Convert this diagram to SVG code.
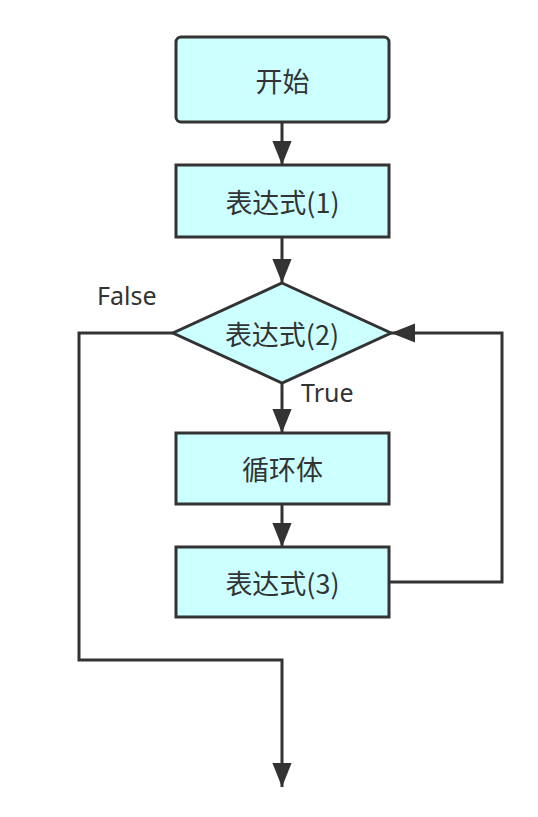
<svg xmlns="http://www.w3.org/2000/svg" width="538" height="817" viewBox="0 0 538 817">
<style>
.node{fill:#ccffff;stroke:#333333;stroke-width:3}
.cn{font-family:"Noto Sans CJK SC","Noto Sans",sans-serif;font-size:27px;fill:#333333;text-anchor:middle;dominant-baseline:central}
.lbl{font-family:"Noto Sans","Liberation Sans",sans-serif;font-size:25px;fill:#333333}
.edge{fill:none;stroke:#333333;stroke-width:3}
</style>
<defs>
<marker id="arr" markerUnits="userSpaceOnUse" markerWidth="24" markerHeight="20" viewBox="0 0 20 16" refX="20" refY="8" orient="auto">
<path d="M0,0 L20,8 L0,16 Z" fill="#333333"/>
</marker>
</defs>
<rect width="538" height="817" fill="#ffffff"/>
<g id="connectors">
<path class="edge" d="M282,122 L282,165" marker-end="url(#arr)"/>
<path class="edge" d="M282,237 L282,283" marker-end="url(#arr)"/>
<path class="edge" d="M282,383 L282,433" marker-end="url(#arr)"/>
<path class="edge" d="M282,504 L282,547" marker-end="url(#arr)"/>
<path class="edge" d="M389,582 L502,582 L502,333 L391,333" marker-end="url(#arr)"/>
<path class="edge" d="M173,333 L79,333 L79,660 L282,660 L282,787" marker-end="url(#arr)"/>
</g>
<g id="start">
<rect class="node" x="176" y="37" width="213" height="85" rx="5"/>
<text class="cn" x="282.5" y="80">开始</text>
</g>
<g id="expr1">
<rect class="node" x="176" y="165" width="213" height="72"/>
<text class="cn" x="282.5" y="201">表达式(1)</text>
</g>
<g id="expr2">
<polygon class="node" points="282,283 391,333 282,383 173,333"/>
<text class="cn" x="282" y="333">表达式(2)</text>
</g>
<g id="body">
<rect class="node" x="176" y="433" width="213" height="71"/>
<text class="cn" x="282.5" y="468.5">循环体</text>
</g>
<g id="expr3">
<rect class="node" x="176" y="547" width="213" height="70"/>
<text class="cn" x="282.5" y="582">表达式(3)</text>
</g>
<g id="labels">
<text class="lbl" x="97" y="305">False</text>
<text class="lbl" x="301" y="402">True</text>
</g>
</svg>
